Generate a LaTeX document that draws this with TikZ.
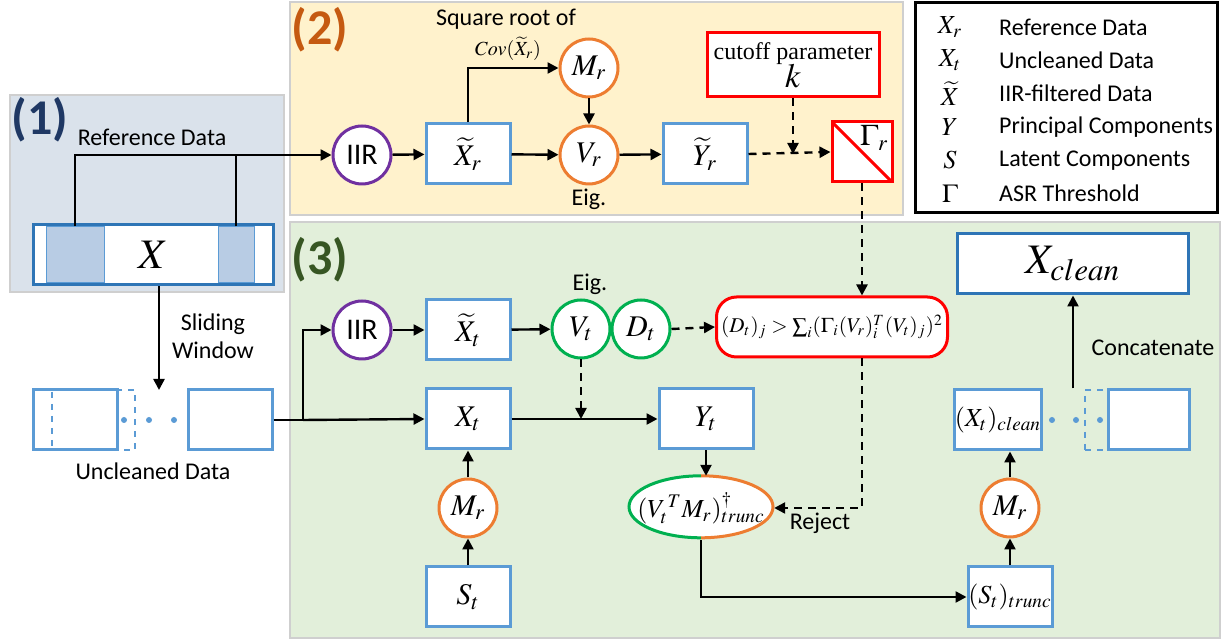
\documentclass[tikz,border=0pt]{standalone}
\usepackage{mathptmx}
\usepackage[no-math]{fontspec}
\setmainfont{Carlito}
\newfontfamily\timesfont{Liberation Serif}
\usetikzlibrary{arrows.meta, shapes.geometric, positioning}
\definecolor{boxblue}{HTML}{5B9BD5}
\definecolor{deepblue}{HTML}{2E75B6}
\definecolor{segblue}{HTML}{B8CCE4}
\definecolor{paneone}{HTML}{DAE2EB}
\definecolor{panetwo}{HTML}{FFF2CC}
\definecolor{panethree}{HTML}{E2EFDA}
\definecolor{panelline}{HTML}{CFCFCF}
\definecolor{orng}{HTML}{ED7D31}
\definecolor{grn}{HTML}{00B050}
\definecolor{purp}{HTML}{7030A0}
\definecolor{navy}{HTML}{1F3864}
\definecolor{rust}{HTML}{C55A11}
\definecolor{forest}{HTML}{375623}

\begin{document}
\begin{tikzpicture}[x=0.5pt,y=-0.5pt,>={Triangle[length=5.5pt,width=5.5pt]},line width=1.2pt]
\tikzset{blk/.style={draw=boxblue, line width=1.5pt, fill=white, minimum width=42pt, minimum height=30pt, inner sep=0pt, font=\fontsize{15}{18}\selectfont},
crc/.style={circle, fill=white, line width=1.5pt, minimum size=29pt, inner sep=0pt, font=\fontsize{15}{18}\selectfont},
lbl/.style={font=\fontsize{12}{14}\selectfont, inner sep=1pt},
tag/.style={font=\fontsize{25}{28}\selectfont\bfseries},
dot/.style={circle, fill=boxblue, inner sep=0pt, minimum size=3pt},
dsh/.style={dash pattern=on 4pt off 3pt}}
\useasboundingbox (0,0) rectangle (1222,640);
% panels
\draw[panelline, line width=0.8pt, fill=paneone] (10,95) rectangle (284,292);
\draw[panelline, line width=0.8pt, fill=panetwo] (290,2) rectangle (903,215);
\draw[panelline, line width=0.8pt, fill=panethree] (290,222) rectangle (1220,638);
\node[tag, text=navy] (p1) at (40,120) {(1)};
\node[tag, text=rust] (p2) at (320,30) {(2)};
\node[tag, text=forest] (p3) at (320,260) {(3)};
% (1) reference data
\node[lbl] (refdata) at (152,137) {Reference Data};
\node[blk, draw=deepblue, minimum width=120pt] (X) at (153,255) {};
\node[draw=boxblue, line width=0.5pt, fill=segblue, minimum width=29pt, minimum height=28pt] (xl) at (75,255) {};
\node[draw=boxblue, line width=0.5pt, fill=segblue, minimum width=18pt, minimum height=28pt] (xr) at (236,255) {};
\node[font=\fontsize{21}{24}\selectfont] (xlab) at (X) {$X$};
% sliding windows
\node[blk, minimum width=42pt] (w1) at (75,420) {};
\node[draw=boxblue, dashed, line width=0.6pt, minimum width=41.5pt, minimum height=30pt] (w0) at (93.5,420) {};
\foreach \x [count=\i] in {124,149,174} \node[dot] (d\i) at (\x,420) {};
\node[blk] (w2) at (230,420) {};
\node[lbl, align=center] (slide) at (213,336) {Sliding\\Window};
\node[lbl] (uncl) at (153,471) {Uncleaned Data};
\coordinate (swend) at (159,390);
% (2) calibration
\node[lbl] (sqrt) at (506,19) {Square root of};
\node[font=\fontsize{10}{12}\selectfont] (cov) at (508,49) {$Cov(\widetilde{X}_r)$};
\node[crc, draw=purp] (iir2) at (362,155) {IIR};
\node[blk] (xr2) at (468,154) {$\widetilde{X}_r$};
\node[crc, draw=orng] (mr2) at (589,68) {$M_r$};
\node[crc, draw=orng] (vr2) at (589,155) {$V_r$};
\node[lbl] (eig2) at (589,199) {Eig.};
\node[blk] (yr2) at (705,154) {$\widetilde{Y}_r$};
\node[draw=red, fill=white, line width=1.5pt, minimum width=86pt, minimum height=32pt, align=center, font=\timesfont\fontsize{12}{15}\selectfont, inner sep=1pt] (cutoff) at (793,65) {cutoff parameter\\[-1pt]{\fontsize{17}{17}\selectfont$k$}};
\node[draw=red, fill=white, line width=1.5pt, minimum size=30pt, path picture={\draw[red, line width=1.5pt] (path picture bounding box.north west) -- (path picture bounding box.south east);}] (gam) at (862,152) {};
\node[anchor=north east, inner sep=2pt, font=\fontsize{15}{18}\selectfont] (gamlbl) at (gam.north east) {$\Gamma_r$};
% legend
\node[draw=black, line width=1.5pt, minimum width=151pt, minimum height=105pt] (legend) at (1066.5,107.5) {};
\foreach \sym/\txt [count=\i] in {{X_r}/Reference Data, {X_t}/Uncleaned Data, {\widetilde{X}}/IIR-filtered Data, {Y}/Principal Components, {S}/Latent Components, {\Gamma}/ASR Threshold}{
  \node[font=\fontsize{13}{15}\selectfont] (sym\i) at (950,{27+33.3*(\i-1)}) {$\sym$};
  \node[lbl, anchor=west] (txt\i) at (996,{27+33.3*(\i-1)}) {\txt};
}
% (3) processing
\node[crc, draw=purp] (iir3) at (362,330) {IIR};
\node[blk] (xt3) at (468,330) {$\widetilde{X}_t$};
\node[crc, draw=grn] (vt) at (581,329) {$V_t$};
\node[crc, draw=grn] (dt) at (641,329) {$D_t$};
\node[lbl] (eig3) at (590,284) {Eig.};
\node[draw=red, fill=white, line width=1.5pt, rounded corners=10pt, minimum width=115.5pt, minimum height=30pt, inner sep=0pt, font=\fontsize{10.5}{13}\selectfont] (cond) at (832,327) {$(D_t)_j > {\textstyle\sum}_i (\Gamma_i (V_r)_i^{T} (V_t)_j)^2$};
\node[blk] (xt) at (468,419) {$X_t$};
\node[blk, minimum width=47pt] (yt) at (706,419) {$Y_t$};
\node[crc, draw=orng] (mra) at (468,508) {$M_r$};
\node[blk] (st) at (468,597) {$S_t$};
\node[ellipse, fill=white, minimum width=72pt, minimum height=31pt, inner sep=0pt] (ell) at (701,508) {};
\draw[grn, line width=1.5pt] (ell.north) arc[start angle=90, end angle=270, x radius=36pt, y radius=15.5pt];
\draw[orng, line width=1.5pt] (ell.north) arc[start angle=90, end angle=-90, x radius=36pt, y radius=15.5pt];
\node[font=\fontsize{13}{15}\selectfont] (elltxt) at (ell) {$(V_t^{\,T} M_r)^{\dagger}_{trunc}$};
\node[lbl] (reject) at (820,523) {Reject};
\node[blk, font=\fontsize{13}{15}\selectfont] (st2) at (1010,597) {$(S_t)_{trunc}$};
\node[crc, draw=orng] (mrb) at (1010,508) {$M_r$};
\node[blk, minimum width=40.5pt, font=\fontsize{13}{15}\selectfont] (xtc) at (998,420) {$(X_t)_{clean}$};
\foreach \x [count=\i] in {1052,1076,1100} \node[dot] (e\i) at (\x,420) {};
\node[draw=boxblue, dashed, line width=0.6pt, minimum width=40.5pt, minimum height=30pt] (xw0) at (1125.5,420) {};
\node[blk, minimum width=40.5pt] (xw) at (1148.5,420) {};
\node[lbl] (concat) at (1153,348) {Concatenate};
\node[blk, draw=deepblue, minimum width=115.5pt, font=\fontsize{21}{24}\selectfont] (xclean) at (1073,264) {$X_{clean}$};
\coordinate (split) at (303,420);
% connectors
\draw[->] (xl.north) |- (iir2.west);
\draw (xr.north) -- (xr.north |- iir2.west);
\draw[->] (X.south -| swend) -- (swend);
\path[->] (iir2) edge (xr2);
\path[->] (xr2) edge (vr2);
\draw[->] (xr2.north) |- (mr2.west);
\path[->] (mr2) edge (vr2);
\path[->] (vr2) edge (yr2);
\draw[dsh, ->] (yr2.east) -- (gam.west);
\draw[dsh, ->] (cutoff.south) -- (cutoff.south |- yr2.east);
\draw (w2.east) -- (split);
\draw[->] (split) -- (xt.west);
\draw[->] (split) |- (iir3.west);
\path[->] (iir3) edge (xt3);
\path[->] (xt3) edge (vt);
\draw[dsh, ->] (dt.east) -- (cond.west);
\draw[dsh, ->] (vt.south) -- (vt.south |- xt.east);
\path[->] (xt) edge (yt);
\draw[dsh, ->] (gam.south) -- (gam.south |- cond.north);
\draw[dsh, ->] (gam.south |- cond.south) |- (ell.east);
\draw[->] (yt.south) -- (yt.south |- ell.north);
\draw[->] (ell.south) |- (st2.west);
\path[->] (st) edge (mra);
\path[->] (mra) edge (xt);
\path[->] (st2) edge (mrb);
\draw[->] (mrb.north) -- (mrb.north |- xtc.south);
\draw[->] (xclean.south |- xtc.north) -- (xclean.south);
\end{tikzpicture}
\end{document}
